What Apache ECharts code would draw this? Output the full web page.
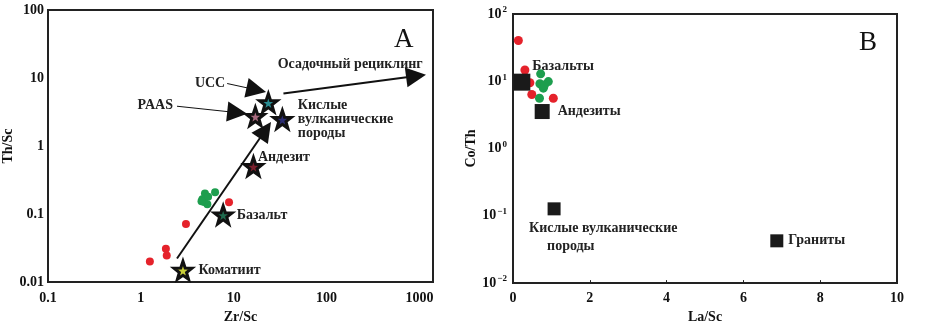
<!DOCTYPE html>
<html>
<head>
<meta charset="utf-8">
<script src="https://cdn.jsdelivr.net/npm/echarts@6/dist/echarts.min.js"></script>
<style>html,body{margin:0;padding:0;background:#fff}#c{width:945px;height:329px}</style>
</head>
<body>
<div id="c"></div>
<script>
// ---------- Panel A: Th/Sc vs Zr/Sc ----------
const redA = [[1.25, 0.020], [1.86, 0.031], [1.9, 0.0246], [3.06, 0.0716], [8.9, 0.149]];
const greenA = [[4.9, 0.20], [6.3, 0.21], [4.6, 0.165], [5.2, 0.14], [4.8, 0.15], [5.3, 0.18], [4.5, 0.155]];
const starNames = ['Коматиит', 'Базальт', 'Андезит', 'PAAS', 'UCC', 'Кислые\nвулканические\nпороды'];
const starX = [2.84, 7.7, 16.3, 17.1, 23.6, 33.4];
const starY = [0.0149, 0.097, 0.5, 2.72, 4.34, 2.46];
const starColors = ['#c9cf3a', '#1f6a4e', '#7a1f2c', '#a86a7e', '#2a8c92', '#2b2c72'];
// arrows: [fromX, fromY, toX, toY]
const arrowNames = ['', 'Осадочный рециклинг', 'UCC', 'PAAS'];
const arrowsA = [
  [2.45, 0.0222, 21.9, 1.71],
  [34.3, 5.9, 920, 10.7],
  [8.5, 8.3, 17.5, 6.7],
  [2.45, 3.85, 10.9, 3.1]
];
const recyclingLabelAt = [29, 16];
const xTicksA = [0.1, 1, 10, 100, 1000];
const yTicksA = [0.01, 0.1, 1, 10, 100];

// ---------- Panel B: Co/Th vs La/Sc ----------
const redB = [[0.14, 40.4], [0.31, 14.7], [0.44, 9.5], [0.49, 6.35], [1.05, 5.6]];
const greenB = [[0.72, 12.9], [0.70, 9.2], [0.92, 9.9], [0.79, 7.9], [0.69, 5.6], [0.82, 8.8]];
const rockNamesB = ['Базальты', 'Андезиты', 'Кислые вулканические', 'Граниты'];
const rockX = [0.23, 0.76, 1.07, 6.87];
const rockY = [9.7, 3.55, 0.127, 0.0425];
const xTicksB = [0, 2, 4, 6, 8, 10];

const SERIF = '"Liberation Serif","DejaVu Serif",serif';
const starPath = 'path://M50 0L61.76 33.82L97.55 34.55L69.02 56.18L79.39 90.45L50 70L20.61 90.45L30.98 56.18L2.45 34.55L38.24 33.82Z';
const isPow10 = v => Math.abs(Math.log10(v) - Math.round(Math.log10(v))) < 1e-6;

const chart = echarts.init(document.getElementById('c'), null, {renderer: 'canvas'});

const tickLabel = {color: '#111', fontFamily: SERIF, fontWeight: 'bold', fontSize: 14};
const axisLine = {show: true, lineStyle: {color: '#222', width: 2}};
const nameStyle = {color: '#111', fontFamily: SERIF, fontWeight: 'bold', fontSize: 14};
const labelFont = {color: '#222', fontFamily: SERIF, fontWeight: 'bold', fontSize: 14, lineHeight: 14};

const starLabelCfg = [
  {position: 'right', distance: 5},
  {position: 'right', distance: 3},
  {position: 'right', distance: 0, offset: [-6, -9]},
  {show: false},
  {show: false},
  {position: 'right', distance: 5, align: 'left'}
];

const starData = starX.map((x, i) => ({
  value: [x, starY[i]],
  name: starNames[i],
  itemStyle: {color: starColors[i]},
  label: Object.assign({show: true, formatter: '{b}'}, labelFont, starLabelCfg[i])
}));

const arrowLabelCfg = [
  {show: false},
  {show: false},
  {show: true, position: 'start', distance: 2},
  {show: true, position: 'start', distance: 4}
];
const arrowWidth = [2, 2, 1, 1];
const arrowData = arrowsA.map((a, i) => ({
  coords: [[a[0], a[1]], [a[2], a[3]]],
  name: arrowNames[i],
  lineStyle: {width: arrowWidth[i]},
  label: Object.assign({formatter: '{b}'}, labelFont, arrowLabelCfg[i])
}));

const rockLabelCfg = [
  {position: 'right', distance: 2, offset: [0, -16], formatter: '{b}'},
  {position: 'right', distance: 8, formatter: '{b}'},
  {position: 'bottom', distance: 4, align: 'left', verticalAlign: 'top', offset: [-25, 0],
   formatter: '{b}\n{p|породы}', rich: {p: {padding: [0, 0, 0, 18], fontFamily: SERIF, fontWeight: 'bold', fontSize: 14, color: '#222'}}},
  {position: 'right', distance: 5, formatter: '{b}'}
];
const rockSize = [17, 15, 13, 13];
const rockData = rockX.map((x, i) => ({
  value: [x, rockY[i]],
  name: rockNamesB[i],
  symbolSize: rockSize[i],
  label: Object.assign({show: true}, labelFont, {fontSize: 14, lineHeight: 18}, rockLabelCfg[i])
}));

const option = {
  animation: false,
  backgroundColor: '#fff',
  title: [
    {text: 'A', left: 389, top: 21, textStyle: {fontFamily: SERIF, fontWeight: 'normal', fontSize: 27, color: '#111'}},
    {text: 'B', left: 854, top: 24, textStyle: {fontFamily: SERIF, fontWeight: 'normal', fontSize: 27, color: '#111'}}
  ],
  grid: [
    {left: 48, right: 512, top: 10, bottom: 39, show: true, borderColor: '#222', borderWidth: 2},
    {left: 513, right: 48, top: 14, bottom: 41, show: true, borderColor: '#222', borderWidth: 2}
  ],
  xAxis: [
    {gridIndex: 0, type: 'log', min: 0.1, max: 1400, name: 'Zr/Sc', nameLocation: 'middle', nameGap: 23,
     nameTextStyle: nameStyle, axisLine, axisTick: {show: false}, splitLine: {show: false},
     axisLabel: Object.assign({margin: 9, formatter: v => (isPow10(v) && xTicksA.some(t => Math.abs(t - v) / t < 1e-6)) ? String(+v.toPrecision(3)) : ''}, tickLabel)},
    {gridIndex: 1, type: 'value', min: 0, max: 10, interval: 2, name: 'La/Sc', nameLocation: 'middle', nameGap: 23,
     nameTextStyle: nameStyle, axisLine, axisTick: {show: true, inside: true, length: 3}, splitLine: {show: false},
     axisLabel: Object.assign({margin: 8, formatter: v => xTicksB.includes(v) ? String(v) : ''}, tickLabel)}
  ],
  yAxis: [
    {gridIndex: 0, type: 'log', min: 0.01, max: 100, name: 'Th/Sc', nameLocation: 'middle', nameGap: 33,
     nameTextStyle: nameStyle, axisLine, axisTick: {show: false}, splitLine: {show: false},
     axisLabel: Object.assign({margin: 4, formatter: v => yTicksA.some(t => Math.abs(t - v) / t < 1e-6) ? String(+v.toPrecision(3)) : ''}, tickLabel)},
    {gridIndex: 1, type: 'log', min: 0.01, max: 100, name: 'Co/Th', nameLocation: 'middle', nameGap: 32,
     nameTextStyle: nameStyle, axisLine, axisTick: {show: false}, splitLine: {show: false},
     axisLabel: Object.assign({margin: 6, formatter: v => '10{s|' + String(Math.round(Math.log10(v))).replace('-', '\u2212') + '}',
       rich: {s: {fontFamily: SERIF, fontSize: 9, fontWeight: 'bold', verticalAlign: 'top', color: '#111', padding: [0, 0, 8, 1]}}}, tickLabel)}
  ],
  series: [
    {type: 'scatter', xAxisIndex: 0, yAxisIndex: 0, data: redA, symbolSize: 8, itemStyle: {color: '#e5222b', opacity: 1}, z: 3},
    {type: 'scatter', xAxisIndex: 0, yAxisIndex: 0, data: greenA, symbolSize: 8, itemStyle: {color: '#1d9e4e', opacity: 1}, z: 3},
    {type: 'lines', coordinateSystem: 'cartesian2d', xAxisIndex: 0, yAxisIndex: 0, data: arrowData,
     symbol: ['none', 'triangle'], symbolSize: [16, 20], lineStyle: {color: '#111', opacity: 1, curveness: 0}, z: 4},
    {type: 'scatter', xAxisIndex: 0, yAxisIndex: 0, data: starData, symbol: starPath, symbolSize: 18,
     itemStyle: {borderColor: '#111', borderWidth: 3, opacity: 1}, z: 5},
    {type: 'scatter', xAxisIndex: 0, yAxisIndex: 0, symbol: 'circle', symbolSize: 2, silent: true,
     itemStyle: {color: 'rgba(255,255,255,0)', opacity: 1},
     data: [{value: recyclingLabelAt, name: arrowNames[1]}],
     label: Object.assign({show: true, position: 'right', distance: 0, formatter: '{b}'}, labelFont), z: 6},
    {type: 'scatter', xAxisIndex: 1, yAxisIndex: 1, data: redB, symbolSize: 9, itemStyle: {color: '#e5222b', opacity: 1}, z: 3},
    {type: 'scatter', xAxisIndex: 1, yAxisIndex: 1, data: greenB, symbolSize: 9, itemStyle: {color: '#1d9e4e', opacity: 1}, z: 3},
    {type: 'scatter', xAxisIndex: 1, yAxisIndex: 1, data: rockData, symbol: 'rect', itemStyle: {color: '#1a1a1a', opacity: 1}, z: 4}
  ]
};
chart.setOption(option);
</script>
</body>
</html>
